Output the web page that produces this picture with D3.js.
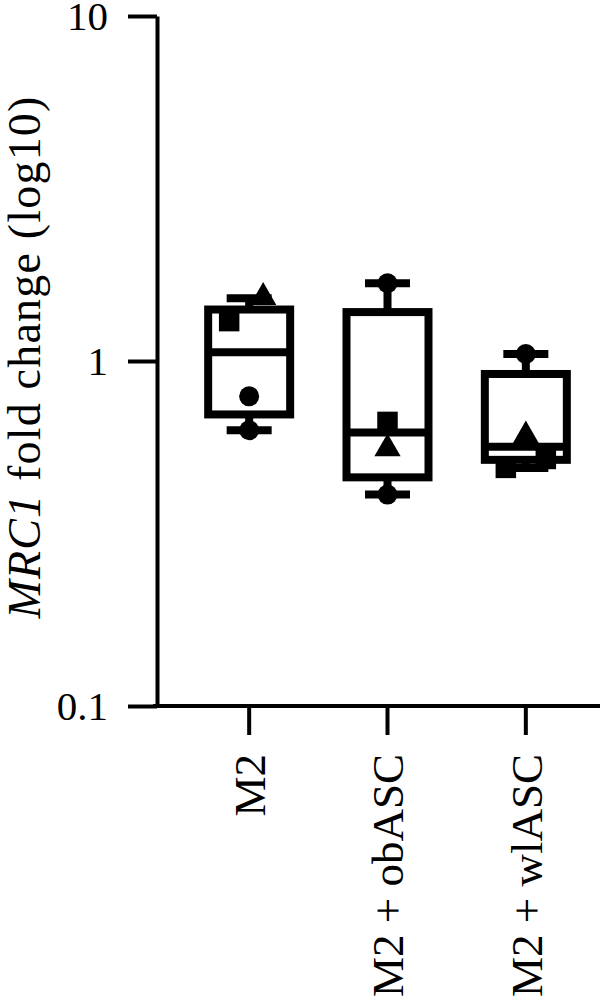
<!DOCTYPE html>
<html>
<head>
<meta charset="utf-8">
<script src="https://cdn.jsdelivr.net/npm/d3@7"></script>
<style>
  html, body { margin: 0; padding: 0; background: #fff; }
  svg { display: block; }
</style>
</head>
<body>
<svg id="chart"></svg>
<script>
// data
var groups     = ["M2", "M2 + obASC", "M2 + wlASC"];
var boxMin     = [0.63, 0.41, 0.49];
var boxQ1      = [0.70, 0.46, 0.517];
var boxMedian  = [1.06, 0.621, 0.564];
var boxQ3      = [1.41, 1.386, 0.917];
var boxMax     = [1.52, 1.68, 1.048];
var pointValues = [
  [1.53, 1.305, 0.79, 0.63],
  [1.68, 0.666, 0.557, 0.41],
  [1.048, 0.607, 0.52, 0.49]
];
var pointShapes = [
  ["triangle", "square", "circle", "circle"],
  ["circle", "square", "triangle", "circle"],
  ["circle", "triangle", "square", "square"]
];
var yTicks = [0.1, 1, 10];

var FONT = "'Liberation Serif', 'Times New Roman', 'DejaVu Serif', serif";
var outerWidth = 600, outerHeight = 1005;
var axisX = 157, yTop = 16, yBottom = 706;
// small horizontal nudges so overlapping symbols stay visible
var pointNudge = [[14, -20, 0, 0], [0, 0, 0, 0], [0, 0, 20, -20]];
var boxWidth = 82, capWidth = 45, lineW = 8;

var svg = d3.select("#chart")
  .attr("width", outerWidth)
  .attr("height", outerHeight);

var xScale = d3.scaleBand().domain(groups).range([180, 595]).padding(0);
var yScale = d3.scaleLog().domain([0.1, 10]).range([yBottom, yTop]);
function cx(d){ return xScale(d) + xScale.bandwidth() / 2; }

// y axis
var yAxisG = svg.append("g")
  .attr("transform", "translate(" + axisX + ",0)")
  .call(d3.axisLeft(yScale)
    .tickValues(yTicks)
    .tickFormat(function (d){ return d3.format("~g")(d); })
    .tickSize(29)
    .tickSizeOuter(0)
    .tickPadding(20));
yAxisG.attr("font-family", FONT);
yAxisG.select(".domain").attr("stroke", "#000").attr("stroke-width", 4);
yAxisG.selectAll(".tick line").attr("stroke", "#000").attr("stroke-width", 4);
yAxisG.selectAll(".tick text")
  .attr("font-family", FONT)
  .attr("fill", "#000")
  .style("font-size", "41px")
  .attr("dy", "0.34em");

// x axis
var xAxisG = svg.append("g")
  .attr("transform", "translate(0," + yBottom + ")")
  .call(d3.axisBottom(xScale).tickSize(29).tickSizeOuter(0));
xAxisG.attr("font-family", FONT);
xAxisG.select(".domain").remove();
xAxisG.selectAll(".tick line").attr("stroke", "#000").attr("stroke-width", 4);
xAxisG.selectAll(".tick text")
  .attr("font-family", FONT)
  .attr("fill", "#000")
  .style("font-size", "45px")
  .style("text-anchor", "end")
  .attr("x", 0)
  .attr("y", 0)
  .attr("dx", "-48px")
  .attr("dy", "0.35em")
  .attr("transform", "rotate(-90)");

svg.append("line")
  .attr("x1", axisX - 4).attr("x2", outerWidth)
  .attr("y1", yBottom).attr("y2", yBottom)
  .attr("stroke", "#000").attr("stroke-width", 4);

// y label
var yLabel = svg.append("text")
  .attr("transform", "translate(40,357) rotate(-90)")
  .attr("text-anchor", "middle")
  .attr("font-family", FONT)
  .attr("fill", "#000")
  .style("font-size", "46px")
  .style("letter-spacing", "1.2px");
yLabel.append("tspan").style("font-style", "italic").text("MRC1");
yLabel.append("tspan").text(" fold change (log10)");

// box plots
var boxes = svg.selectAll(".box").data(groups).enter().append("g").attr("class", "box");

boxes.append("line") // whisker
  .attr("x1", cx).attr("x2", cx)
  .attr("y1", function (d, i){ return yScale(boxMax[i]); })
  .attr("y2", function (d, i){ return yScale(boxMin[i]); })
  .attr("stroke", "#000").attr("stroke-width", lineW);

boxes.append("rect")
  .attr("x", function (d){ return cx(d) - boxWidth / 2; })
  .attr("width", boxWidth)
  .attr("y", function (d, i){ return yScale(boxQ3[i]); })
  .attr("height", function (d, i){ return yScale(boxQ1[i]) - yScale(boxQ3[i]); })
  .attr("fill", "#fff").attr("stroke", "#000").attr("stroke-width", lineW);

boxes.append("line") // median
  .attr("x1", function (d){ return cx(d) - boxWidth / 2; })
  .attr("x2", function (d){ return cx(d) + boxWidth / 2; })
  .attr("y1", function (d, i){ return yScale(boxMedian[i]); })
  .attr("y2", function (d, i){ return yScale(boxMedian[i]); })
  .attr("stroke", "#000").attr("stroke-width", lineW);

[boxMax, boxMin].forEach(function (arr){
  boxes.append("line")
    .attr("x1", function (d){ return cx(d) - capWidth / 2; })
    .attr("x2", function (d){ return cx(d) + capWidth / 2; })
    .attr("y1", function (d, i){ return yScale(arr[i]); })
    .attr("y2", function (d, i){ return yScale(arr[i]); })
    .attr("stroke", "#000").attr("stroke-width", lineW);
});

// individual points
var symbolType = { circle: d3.symbolCircle, square: d3.symbolSquare, triangle: d3.symbolTriangle };
var symbolSize = { circle: 314, square: 420, triangle: 300 };
var pts = [];
groups.forEach(function (g, i){
  pointValues[i].forEach(function (v, j){
    pts.push({ group: g, value: v, shape: pointShapes[i][j], nudge: pointNudge[i][j] });
  });
});
svg.selectAll(".pt").data(pts).enter().append("path")
  .attr("class", "pt")
  .attr("d", function (d){ return d3.symbol().type(symbolType[d.shape]).size(symbolSize[d.shape])(); })
  .attr("transform", function (d){ return "translate(" + (cx(d.group) + d.nudge) + "," + yScale(d.value) + ")"; })
  .attr("fill", "#000");
</script>
</body>
</html>
